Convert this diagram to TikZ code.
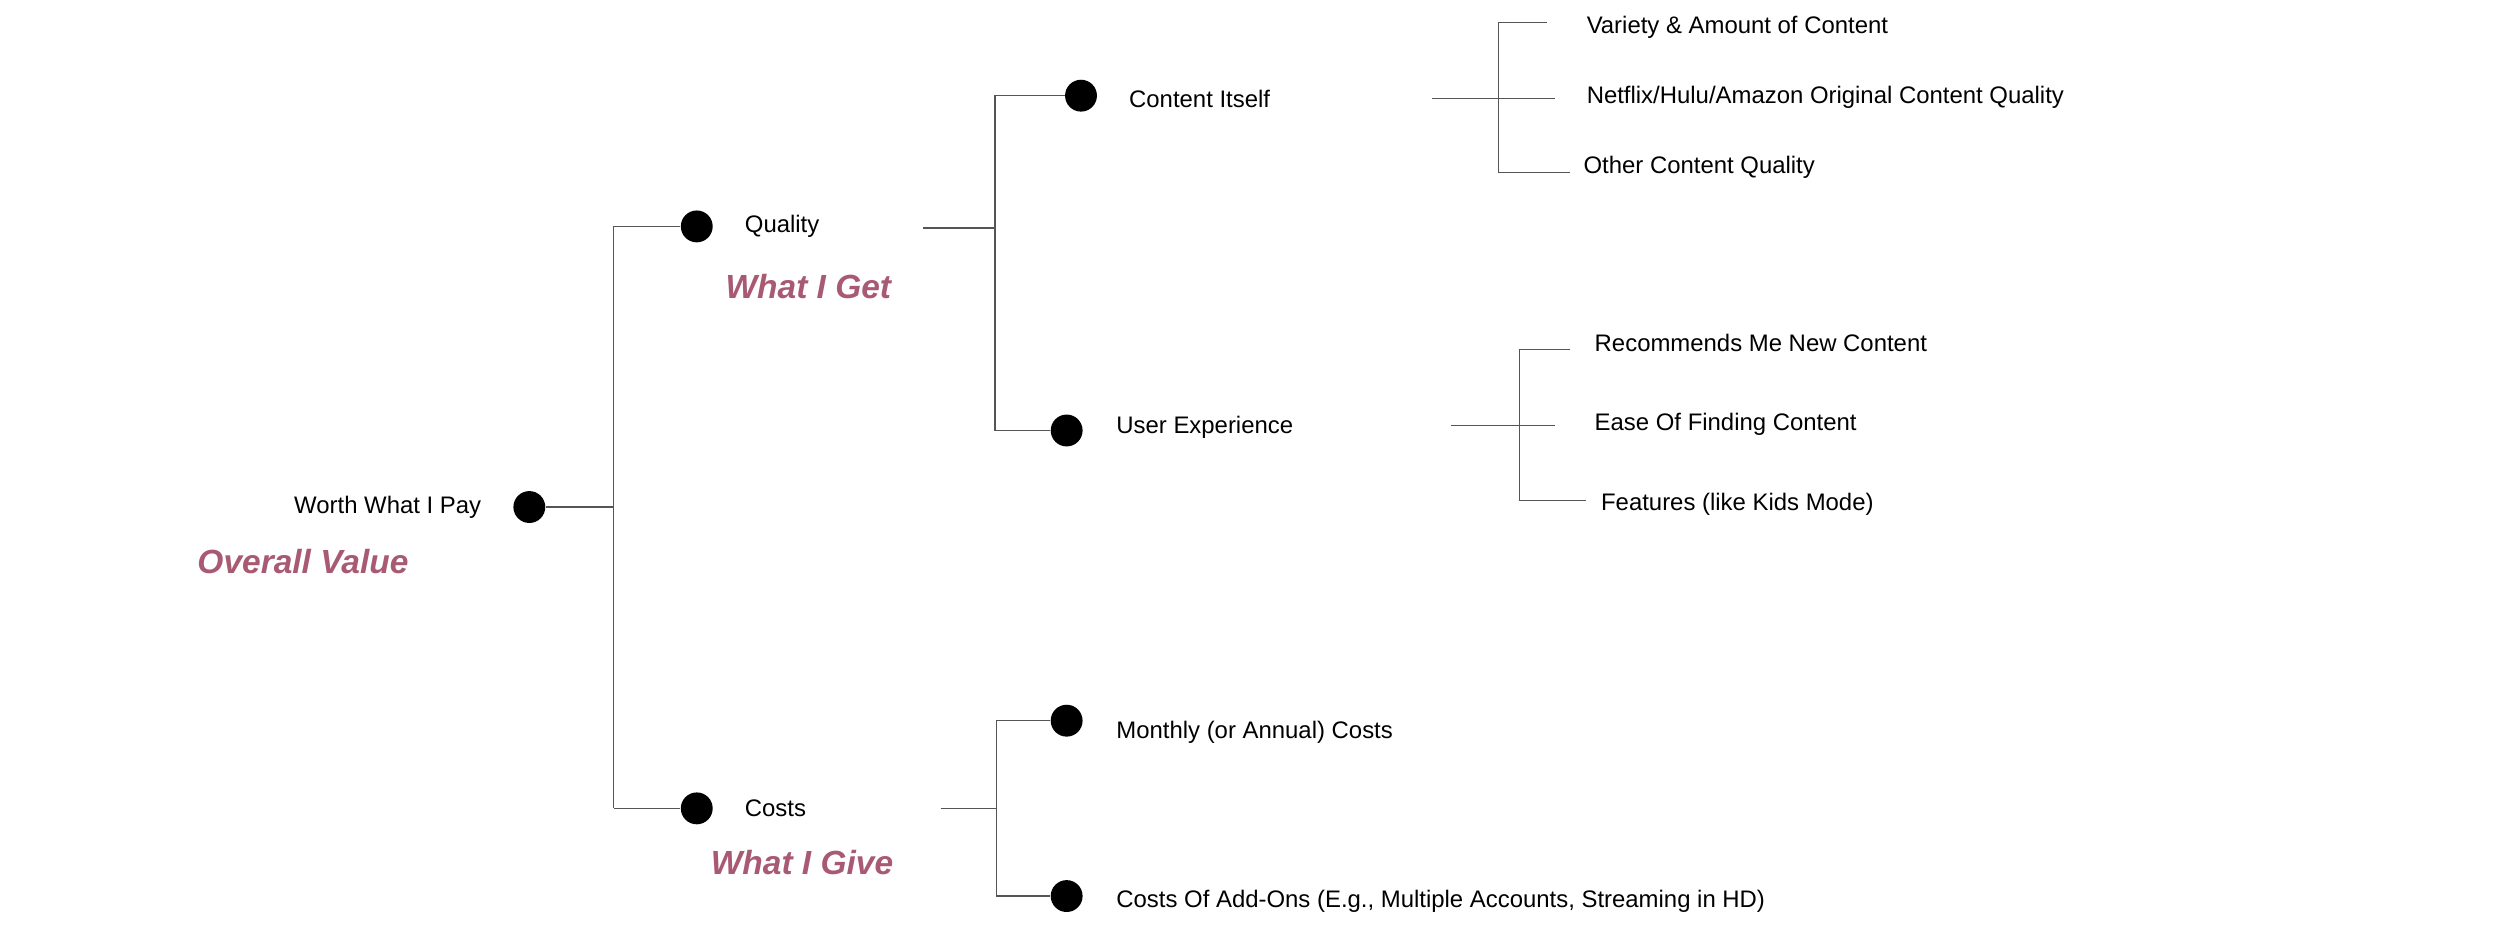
\documentclass[tikz,border=0pt]{standalone}
\usepackage{fontspec}
\setmainfont{Liberation Sans}
\usetikzlibrary{positioning}
\definecolor{LabelColor}{HTML}{A85A73}
\definecolor{LineColor}{HTML}{555555}
\tikzstyle{dot} = [circle, fill=black, inner sep=0pt, minimum size=20pt]
\tikzstyle{txt} = [anchor=west, inner sep=0pt, font=\fontsize{15}{17}\selectfont]
\tikzstyle{big} = [inner sep=0pt, text=LabelColor, font=\fontsize{21}{24}\selectfont\bfseries\itshape]
\tikzset{every picture/.style={x=1pt, y=-1pt}, link/.style={draw=LineColor, line width=0.8pt}}
\begin{document}
\begin{tikzpicture}
\useasboundingbox (0,0) rectangle (1568,587);
% root
\node[dot] (wp) at (332,318) {};
\node[txt, anchor=east] (wpt) at (302,318) {Worth What I Pay};
\node[big] (ov) at (190,352) {Overall Value};
\node[dot] (q) at (437,142) {};
\node[txt] (qt) at (467,142) {Quality};
\node[big] (get) at (507,180) {What I Get};
\node[dot] (c) at (437,507) {};
\node[txt] (ct) at (467,507) {Costs};
\node[big] (give) at (503,541) {What I Give};
% quality branch
\node[dot] (ci) at (678,60) {};
\node[txt] (cit) at (708,62) {Content Itself};
\node[dot] (ux) at (669,270) {};
\node[txt] (uxt) at (700,268) {User Experience};
% costs branch
\node[dot] (mc) at (669,452) {};
\node[txt] (mct) at (700,459) {Monthly (or Annual) Costs};
\node[dot] (ao) at (669,562) {};
\node[txt] (aot) at (700,565) {Costs Of Add-Ons (E.g., Multiple Accounts, Streaming in HD)};
% leaves
\node[txt] (va) at (995,17) {Variety \& Amount of Content};
\node[txt] (nf) at (995,61) {Netflix/Hulu/Amazon Original Content Quality};
\node[txt] (oc) at (993,105) {Other Content Quality};
\node[txt] (rm) at (1000,215) {Recommends Me New Content};
\node[txt] (ef) at (1000,266) {Ease Of Finding Content};
\node[txt] (fe) at (1004,316) {Features (like Kids Mode)};
% connectors
\coordinate (j1) at (385,318);
\draw[link] (wp) -- (j1) (c -| j1) -- (q -| j1) -- (q);
\draw[link] (c -| j1) -- (c);
\coordinate (j2) at (624,143);
\draw[link] (579,143) -- (j2);
\draw[link] (ci) -- (ci -| j2) -- (ux -| j2) -- (ux);
\coordinate (j3) at (625,507);
\draw[link] (590,507) -- (j3);
\draw[link] (mc) -- (mc -| j3) -- (ao -| j3) -- (ao);
\coordinate (j4) at (940,62);
\draw[link] (898,62) -- (975,62);
\draw[link] (970,14) -- (940,14) -- (940,108) -- (985,108);
\coordinate (j5) at (953,267);
\draw[link] (910,267) -- (975,267);
\draw[link] (985,219) -- (953,219) -- (953,314) -- (995,314);
\end{tikzpicture}
\end{document}
